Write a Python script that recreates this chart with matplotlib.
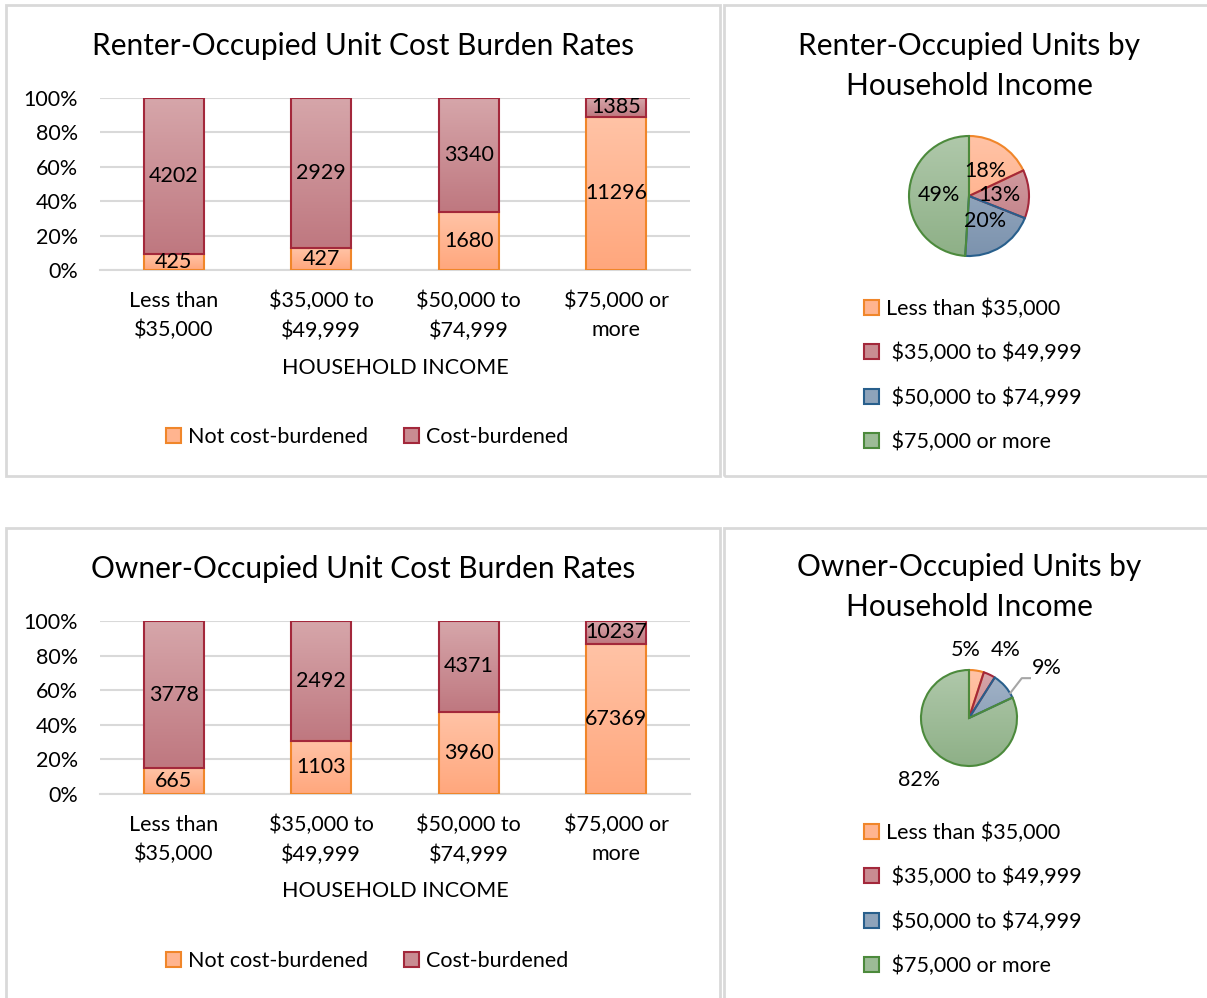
import matplotlib.pyplot as plt
import numpy as np
from matplotlib.colors import LinearSegmentedColormap
from matplotlib.patches import Patch, Rectangle

plt.rcParams['font.family'] = ['Lato', 'DejaVu Sans']
plt.rcParams['text.parse_math'] = False

# data
incomes = ['Less than\n$35,000', '$35,000 to\n$49,999', '$50,000 to\n$74,999', '$75,000 or\nmore']
renter_not = [425, 427, 1680, 11296]
renter_burden = [4202, 2929, 3340, 1385]
owner_not = [665, 1103, 3960, 67369]
owner_burden = [3778, 2492, 4371, 10237]

pie_labels = ['Less than $35,000', ' $35,000 to $49,999', ' $50,000 to $74,999', ' $75,000 or more']
renter_share = [18, 13, 20, 49]
owner_share = [5, 4, 9, 82]

W, H = 1207, 998
FS = 15.5
TS = 21.5
fig = plt.figure(figsize=(W / 100, H / 100), dpi=100)


def box(x0, y0, x1, y1):
    return [x0 / W, 1 - y1 / H, (x1 - x0) / W, (y1 - y0) / H]


def fy(y):
    return 1 - y / H


# panel frames
for x0, y0, x1, y1 in [(6, 5, 720, 476), (724, 5, 1212, 476),
                       (6, 528, 720, 1005), (724, 528, 1212, 1005)]:
    fig.patches.append(Rectangle((x0 / W, fy(y1)), (x1 - x0) / W, (y1 - y0) / H,
                                 transform=fig.transFigure, fill=False,
                                 edgecolor='#D9D9D9', lw=2))

orange = dict(top='#FFC3A6', bot='#FFA77D', edge='#F0862A', mid='#FFB48F')
rose = dict(top='#D6A6AA', bot='#BF7880', edge='#A3283B', mid='#C98C92')
blue = dict(top='#A3B4C8', bot='#7C93AE', edge='#285F8C', mid='#8EA3BA')
green = dict(top='#AFC8AA', bot='#8EB087', edge='#4C8A3C', mid='#9CBB96')


def grad_fill(ax, patch, c, extent):
    cmap = LinearSegmentedColormap.from_list('g', [c['bot'], c['top']])
    img = ax.imshow(np.linspace(1, 0, 64).reshape(-1, 1), cmap=cmap, aspect='auto',
                    extent=extent, interpolation='bilinear', zorder=patch.get_zorder() - 0.1)
    img.set_clip_path(patch)


def bar_panel(rect, title, ty, not_b, burden, label_y, legend_y):
    ax = fig.add_axes(rect)
    x = np.arange(len(incomes))
    tot = np.array(not_b) + np.array(burden)
    p_not = np.array(not_b) / tot * 100
    p_bur = np.array(burden) / tot * 100
    b1 = ax.bar(x, p_not, width=0.41, facecolor='none', edgecolor=orange['edge'], lw=1.5, zorder=3)
    b2 = ax.bar(x, p_bur, bottom=p_not, width=0.41, facecolor='none', edgecolor=rose['edge'], lw=1.5, zorder=3)
    for bars, c in [(b1, orange), (b2, rose)]:
        for p in bars:
            bx, by, bw, bh = p.get_x(), p.get_y(), p.get_width(), p.get_height()
            grad_fill(ax, p, c, [bx, bx + bw, by, by + bh])
    for i in x:
        ax.text(i, p_not[i] / 2, str(not_b[i]), ha='center', va='center', fontsize=FS, zorder=5)
        ax.text(i, p_not[i] + p_bur[i] / 2, str(burden[i]), ha='center', va='center', fontsize=FS, zorder=5)
    ax.set_xlim(-0.5, 3.5)
    ax.set_ylim(0, 100)
    ax.set_yticks(range(0, 101, 20))
    ax.set_yticklabels([f'{v}%' for v in range(0, 101, 20)])
    ax.yaxis.grid(True, color='#D9D9D9', lw=1.5)
    ax.set_axisbelow(True)
    ax.set_xticks(x)
    ax.set_xticklabels(incomes, linespacing=1.55)
    ax.tick_params(length=0, labelsize=FS, pad=16)
    ax.tick_params(axis='x', pad=15)
    for s in ax.spines.values():
        s.set_visible(False)
    ax.spines['bottom'].set_visible(True)
    ax.spines['bottom'].set_color('#D9D9D9')
    ax.spines['bottom'].set_linewidth(1.5)
    fig.text(363 / W, fy(ty), title, ha='center', va='center', fontsize=TS)
    fig.text(395 / W, fy(label_y), 'HOUSEHOLD INCOME', ha='center', va='center', fontsize=FS)
    handles = [Patch(facecolor=orange['mid'], edgecolor=orange['edge'], lw=1.5),
               Patch(facecolor=rose['mid'], edgecolor=rose['edge'], lw=1.5)]
    fig.legend(handles, ['Not cost-burdened', 'Cost-burdened'], loc='center',
               bbox_to_anchor=(367 / W, fy(legend_y)), ncol=2, frameon=False,
               fontsize=FS, handlelength=0.7, handleheight=0.7, handletextpad=0.3,
               columnspacing=1.7)


def pie_panel(cx, cy, r, shares, legend_y, outside):
    half = 120
    ax = fig.add_axes(box(cx - half, cy - half, cx + half, cy + half))
    lim = half / r
    cols = [orange, rose, blue, green]
    wedges, _ = ax.pie(shares, startangle=90, counterclock=False, radius=1,
                       colors=['none'] * 4,
                       wedgeprops=dict(lw=1.5))
    for w, c in zip(wedges, cols):
        w.set_edgecolor(c['edge'])
        w.set_zorder(3)
        grad_fill(ax, w, c, [-1, 1, -1, 1])
    if outside is None:
        ang = 90
        for v in shares:
            mid = np.deg2rad(ang - v * 3.6 / 2)
            ax.text(0.5 * np.cos(mid), 0.5 * np.sin(mid), f'{v}%', ha='center', va='center',
                    fontsize=FS, zorder=5)
            ang -= v * 3.6
    else:
        for v, (tx, ty) in zip(shares, outside):
            ax.text(tx, ty, f'{v}%', ha='center', va='center', fontsize=FS, zorder=5)
        ax.plot([0.86, 1.1, 1.27], [0.52, 0.83, 0.83], color='#A6A6A6', lw=1.5, zorder=4)
    ax.set_xlim(-lim, lim)
    ax.set_ylim(-lim, lim)
    ax.set_aspect('equal')
    ax.axis('off')
    handles = [Patch(facecolor=c['mid'], edgecolor=c['edge'], lw=1.5) for c in cols]
    fig.legend(handles, pie_labels, loc='upper left', bbox_to_anchor=(845 / W, fy(legend_y)),
               frameon=False, fontsize=FS, handlelength=0.7, handleheight=0.7,
               handletextpad=0.3, labelspacing=1.12)


bar_panel(box(100, 98, 690, 270), 'Renter-Occupied Unit Cost Burden Rates', 46,
          renter_not, renter_burden, 368, 437)
bar_panel(box(100, 621, 690, 794), 'Owner-Occupied Unit Cost Burden Rates', 569,
          owner_not, owner_burden, 891, 961)

fig.text(969 / W, fy(66), 'Renter-Occupied Units by\nHousehold Income', ha='center', va='center',
         fontsize=TS, linespacing=1.5)
fig.text(969 / W, fy(587), 'Owner-Occupied Units by\nHousehold Income', ha='center', va='center',
         fontsize=TS, linespacing=1.5)

pie_panel(969, 196, 60, renter_share, 279, None)
pie_panel(969, 718, 48, owner_share, 803,
          [(-0.06, 1.42), (0.77, 1.42), (1.62, 1.04), (-1.04, -1.29)])

fig.savefig('out.png', dpi=100, facecolor='white')
